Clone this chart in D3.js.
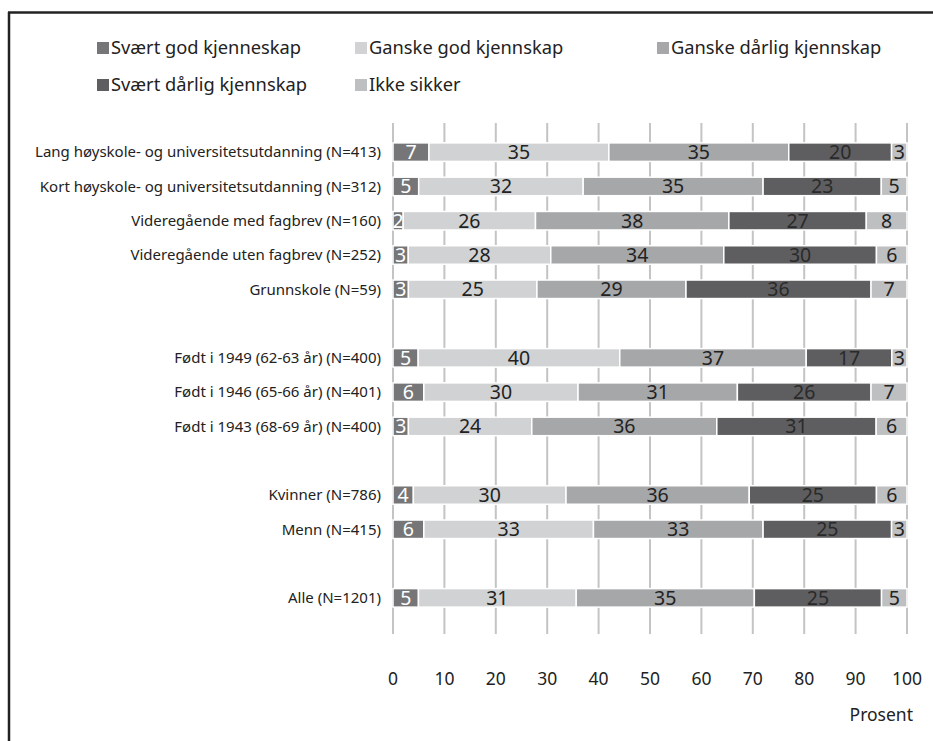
<!DOCTYPE html>
<html>
<head>
<meta charset="utf-8">
<script src="https://cdn.jsdelivr.net/npm/d3@7"></script>
<style>
  body { margin: 0; background: #fff; }
  svg { display: block; font-family: "Noto Sans", "Open Sans", sans-serif; }
  .grid line { stroke: #c4c4c4; stroke-width: 2; }
  .cat { font-size: 15px; fill: #222; }
  .legend text { font-size: 18.3px; fill: #222; }
  .axis text { font-size: 17.5px; fill: #222; }
</style>
</head>
<body>
<svg id="chart" width="933" height="741"></svg>
<script>
// categories, top to bottom; "" marks an empty row between groups
const categories = [
  "Lang høyskole- og universitetsutdanning (N=413)",
  "Kort høyskole- og universitetsutdanning (N=312)",
  "Videregående med fagbrev (N=160)",
  "Videregående uten fagbrev (N=252)",
  "Grunnskole (N=59)",
  "",
  "Født i 1949 (62-63 år) (N=400)",
  "Født i 1946 (65-66 år) (N=401)",
  "Født i 1943 (68-69 år) (N=400)",
  "",
  "Kvinner (N=786)",
  "Menn (N=415)",
  "",
  "Alle (N=1201)"
];

const seriesNames = [
  "Svært god kjenneskap",
  "Ganske god kjennskap",
  "Ganske dårlig kjennskap",
  "Svært dårlig kjennskap",
  "Ikke sikker"
];

const svaertGod    = [7, 5, 2, 3, 3, null, 5, 6, 3, null, 4, 6, null, 5];
const ganskeGod    = [35, 32, 26, 28, 25, null, 40, 30, 24, null, 30, 33, null, 31];
const ganskeDaarlig = [35, 35, 38, 34, 29, null, 37, 31, 36, null, 36, 33, null, 35];
const svaertDaarlig = [20, 23, 27, 30, 36, null, 17, 26, 31, null, 25, 25, null, 25];
const ikkeSikker   = [3, 5, 8, 6, 7, null, 3, 7, 6, null, 6, 3, null, 5];

const xTicks = [0, 10, 20, 30, 40, 50, 60, 70, 80, 90, 100];

const colors = ["#767678", "#d1d2d4", "#a6a7a9", "#5e5e60", "#bebfc1"];
const labelColors = ["#fff", "#222", "#222", "#2a2a2a", "#222"];

const svg = d3.select("svg#chart");

// frame
svg.append("line").attr("x1", 8).attr("x2", 933).attr("y1", 12.5).attr("y2", 12.5)
  .attr("stroke", "#222").attr("stroke-width", 2.5);
svg.append("line").attr("x1", 9).attr("x2", 9).attr("y1", 12).attr("y2", 741)
  .attr("stroke", "#222").attr("stroke-width", 2.5);

// legend
const legendPos = [[97, 48], [355, 48], [657, 48], [97, 85], [355, 85]];
const legend = svg.append("g").attr("class", "legend");
seriesNames.forEach(function(name, i) {
  const g = legend.append("g").attr("transform", translate(legendPos[i][0], legendPos[i][1]));
  g.append("rect").attr("x", 0).attr("y", -6).attr("width", 12).attr("height", 12).attr("fill", colors[i]);
  g.append("text").attr("x", 14).attr("dy", "0.35em").text(name);
});

// scales
const x = d3.scaleLinear().domain([0, 100]).range([393, 907]);
const y = d3.scaleBand().domain(d3.range(categories.length)).range([135, 615]).paddingInner(0.46).paddingOuter(0.23);

// grid
const grid = svg.append("g").attr("class", "grid");
grid.selectAll("line").data(xTicks).enter().append("line")
  .attr("x1", d => x(d)).attr("x2", d => x(d))
  .attr("y1", 123).attr("y2", 634);

// category labels
svg.selectAll("text.cat").data(categories).enter().append("text")
  .attr("class", "cat")
  .attr("x", 381)
  .attr("y", (d, i) => y(i) + y.bandwidth() / 2)
  .attr("dy", "0.35em")
  .attr("text-anchor", "end")
  .text(d => d);

// stacked bars
const seriesValues = [svaertGod, ganskeGod, ganskeDaarlig, svaertDaarlig, ikkeSikker];
const rows = categories.map(function(c, i) {
  const vals = seriesValues.map(s => s[i]);
  if (vals[0] === null) return null;
  const total = d3.sum(vals);
  let acc = 0;
  return vals.map(function(v, k) {
    const seg = { row: i, k: k, v: v, x0: acc / total * 100 };
    acc += v;
    seg.x1 = acc / total * 100;
    return seg;
  });
}).filter(d => d);

const segs = rows.flat();
const bars = svg.append("g").attr("class", "bars");
bars.selectAll("rect").data(segs).enter().append("rect")
  .attr("x", d => x(d.x0))
  .attr("width", d => x(d.x1) - x(d.x0))
  .attr("y", d => y(d.row))
  .attr("height", y.bandwidth())
  .attr("fill", d => colors[d.k])
  .attr("stroke", "#fff")
  .attr("stroke-width", 1.5);

bars.selectAll("text").data(segs).enter().append("text")
  .attr("x", d => (x(d.x0) + x(d.x1)) / 2)
  .attr("y", d => y(d.row) + y.bandwidth() / 2)
  .attr("dy", "0.36em")
  .attr("text-anchor", "middle")
  .attr("font-size", 19.5)
  .attr("fill", d => labelColors[d.k])
  .text(d => d.v);

// x axis labels
const axis = svg.append("g").attr("class", "axis");
axis.selectAll("text").data(xTicks).enter().append("text")
  .attr("x", d => x(d))
  .attr("y", 685)
  .attr("text-anchor", "middle")
  .text(d => d);
axis.append("text").attr("x", 913).attr("y", 721).attr("text-anchor", "end").text("Prosent");

function translate(x, y) {
  return "translate(" + String(x) + "," + String(y) + ")";
}
</script>
</body>
</html>
